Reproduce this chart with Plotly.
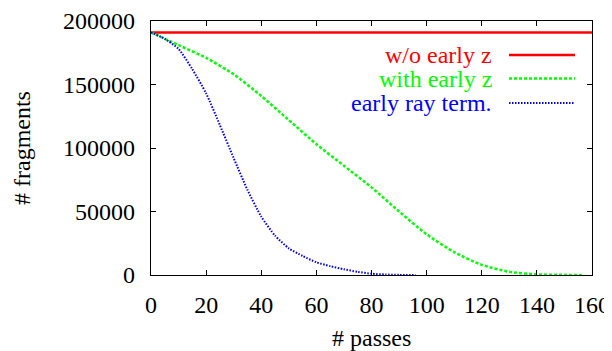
import plotly.graph_objects as go

# Data
passes_red = [0, 40, 80, 120, 160]
frags_red = [191000, 191000, 191000, 191000, 191000]

passes_green = [0, 10, 20, 30, 40, 50, 60, 70, 80, 90, 100, 110, 120, 130, 140, 150, 157]
frags_green = [191000, 181000, 171000, 158000, 141000, 122000, 103000, 86000, 69000,
               50000, 32000, 18000, 8000, 2500, 500, 100, 0]

passes_blue = [0, 5, 10, 15, 20, 25, 30, 35, 40, 45, 50, 55, 60, 65, 70, 75, 80, 85, 90, 96]
frags_blue = [191000, 186000, 178000, 162000, 143000, 118000, 92000, 67000, 46000, 31000,
              21000, 15000, 10000, 7000, 4500, 2500, 1000, 400, 100, 0]

labels = ["w/o early z", "with early z", "early ray term."]
colors = ["#ff0000", "#00ff00", "#0000ff"]
dashes = ["solid", "3px,2px", "1.5px,1.5px"]
widths = [2.5, 2.5, 2]

x_ticks = [0, 20, 40, 60, 80, 100, 120, 140, 160]
y_ticks = [0, 50000, 100000, 150000, 200000]

FONT = "Liberation Serif"
FS = 24

# page body has an 8px margin; work in page pixel coordinates
OFF = 8
W, H = 604, 343
ml, mt = 151 - OFF, 21 - OFF
mr = W - (592 - OFF)
mb = H - (275 - OFF)
pw, ph = W - ml - mr, H - mt - mb

def px(xp):
    return (xp - OFF - ml) / pw
def py(yp):
    return 1 - (yp - OFF - mt) / ph

fig = go.Figure()
series = [(passes_red, frags_red), (passes_green, frags_green), (passes_blue, frags_blue)]
for (xs, ys), name, c, d, w in zip(series, labels, colors, dashes, widths):
    fig.add_trace(go.Scatter(x=xs, y=ys, mode="lines", name=name,
                             line=dict(color=c, dash=d, width=w, shape="spline", smoothing=0.6),
                             showlegend=False))

# gnuplot-style legend: text right-aligned, sample to the right
rows = [55, 78.5, 103]
for lab, c, d, w, yy in zip(labels, colors, dashes, widths, rows):
    fig.add_annotation(xref="paper", yref="paper", x=px(494), y=py(yy), text=lab,
                       showarrow=False, xanchor="right", yanchor="middle",
                       font=dict(family=FONT, size=FS, color=c))
    fig.add_shape(type="line", xref="paper", yref="paper", x0=px(509), x1=px(575),
                  y0=py(yy), y1=py(yy), line=dict(color=c, dash=d, width=w))

# axis titles
fig.add_annotation(xref="paper", yref="paper", x=px(371), y=py(338), text="# passes",
                   showarrow=False, xanchor="center", yanchor="middle",
                   font=dict(family=FONT, size=FS, color="black"))
fig.add_annotation(xref="paper", yref="paper", x=px(22), y=py(148), text="# fragments",
                   showarrow=False, xanchor="center", yanchor="middle", textangle=-90,
                   font=dict(family=FONT, size=FS, color="black"))

axis_common = dict(showgrid=False, zeroline=False, showline=True, linecolor="black",
                   linewidth=1.2, mirror="ticks", ticks="inside", ticklen=5,
                   tickcolor="black", tickwidth=1, ticklabeloverflow="allow",
                   tickfont=dict(family=FONT, size=FS, color="black"))

fig.update_xaxes(range=[0, 160], tickvals=x_ticks, ticktext=[str(v) for v in x_ticks],
                 ticklabelstandoff=8, **axis_common)
fig.update_yaxes(range=[0, 200000], tickvals=y_ticks, ticktext=[str(v) for v in y_ticks],
                 ticklabelstandoff=10, **axis_common)

fig.update_layout(width=W, height=H, margin=dict(l=ml, r=mr, t=mt, b=mb, autoexpand=False),
                  plot_bgcolor="white", paper_bgcolor="white")

fig.write_html("out.html")
